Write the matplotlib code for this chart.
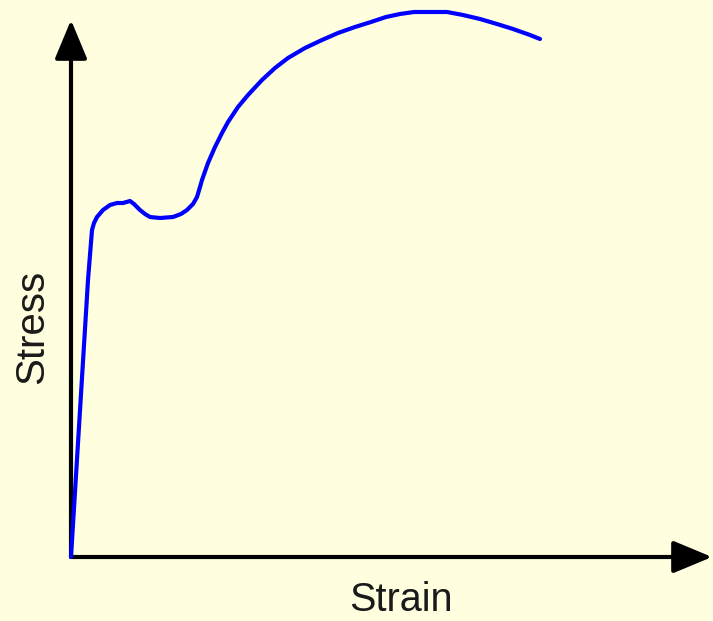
import matplotlib
matplotlib.use("Agg")
from matplotlib import pyplot as plt

# Stress-strain curve (arbitrary units)
strain = [0, 17, 21, 23, 26, 32, 39, 46, 52, 59, 63, 69, 74, 79, 89, 102, 110, 116, 122,
          126, 129, 131, 137, 144, 151, 157, 167, 177, 191, 204, 217, 234, 251, 267,
          284, 300, 315, 329, 343, 359, 376, 392, 409, 426, 442, 459, 469]
stress = [0, 277, 327, 334, 340, 347, 352, 354, 354, 356, 353, 347, 343, 340, 339, 340, 343, 347, 353,
          360, 370, 377, 394, 410, 424, 435, 450, 462, 477, 489, 499, 509, 517, 524,
          530, 535, 540, 543, 545, 545, 545, 542, 538, 533, 528, 522, 518]

x_label = "Strain"
y_label = "Stress"

bg = "#FFFFE0"
fig = plt.figure(figsize=(7.13, 6.21), dpi=100, facecolor=bg)
ax = fig.add_axes([0, 0, 1, 1])
ax.set_facecolor(bg)
ax.set_xlim(-71, 642)
ax.set_ylim(-64, 557)
ax.axis("off")

# axes with arrow heads
arrow = dict(arrowstyle="-|>,head_length=1.2,head_width=0.5", lw=3, color="black",
             mutation_scale=20, shrinkA=0, shrinkB=0)
ax.annotate("", xy=(0, 537), xytext=(0, 0), arrowprops=arrow)
ax.annotate("", xy=(641, 0), xytext=(0, 0), arrowprops=arrow)

ax.plot(strain, stress, color="#0000FF", lw=3, solid_joinstyle="round",
        solid_capstyle="round", zorder=3)

ax.text(330, -54, x_label, ha="center", va="baseline", fontsize=28.5,
        family="Liberation Sans", color="#1a1a1a")
ax.text(-28, 230, y_label, ha="center", va="baseline", fontsize=29, rotation=90,
        rotation_mode="anchor", family="Liberation Sans", color="#1a1a1a")

fig.savefig("out.png", dpi=100, facecolor=bg)
